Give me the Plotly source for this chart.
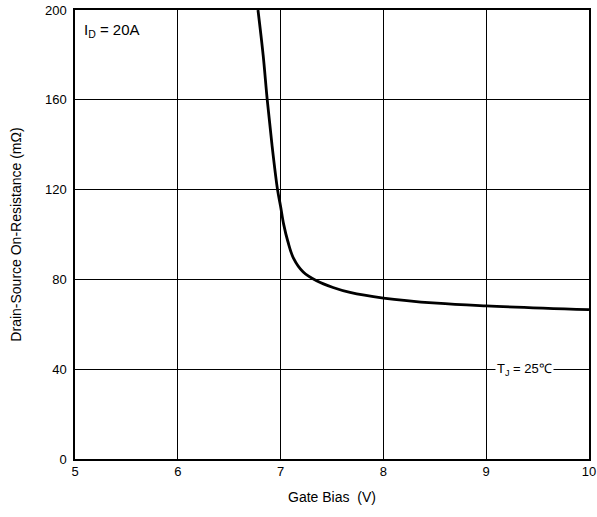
import plotly.graph_objects as go

gate_bias = [6.78, 6.83, 6.87, 6.916, 6.97, 7.0, 7.03, 7.07, 7.125, 7.22, 7.35, 7.51, 7.675, 8.0, 8.52, 9.0, 10.0]
resistance = [200, 180, 160, 140, 120, 112.5, 104.5, 97, 89.5, 83.3, 79.4, 76.4, 74.2, 71.7, 69.4, 68.2, 66.5]
x_ticks = [5, 6, 7, 8, 9, 10]
y_ticks = [0, 40, 80, 120, 160, 200]

FONT = "Liberation Sans, Arial"

fig = go.Figure()
fig.add_trace(go.Scatter(x=gate_bias, y=resistance, mode="lines",
                         line=dict(color="black", width=2.8, shape="spline", smoothing=1.0),
                         showlegend=False, hoverinfo="skip"))

axis_common = dict(showgrid=True, gridcolor="black", gridwidth=1.2, showline=True,
                   linecolor="black", linewidth=1.5, mirror=True, zeroline=False,
                   automargin=False,
                   ticks="", tickfont=dict(family=FONT, size=13, color="black"))

fig.update_xaxes(range=[5, 10], tickvals=x_ticks, ticktext=[str(v) for v in x_ticks],
                 title=dict(text="Gate Bias  (V)", font=dict(family=FONT, size=14, color="black"), standoff=14),
                 **axis_common)
fig.update_yaxes(range=[0, 200], tickvals=y_ticks, ticktext=[str(v) for v in y_ticks],
                 ticklabelstandoff=4,
                 title=dict(text="Drain-Source On-Resistance (mΩ)", font=dict(family=FONT, size=14, color="black"), standoff=20),
                 **axis_common)

fig.add_annotation(x=5.07, y=196, xref="x", yref="y", xanchor="left", yanchor="top",
                   text="I<sub>D</sub> = 20A", showarrow=False,
                   font=dict(family=FONT, size=15, color="black"))
fig.add_annotation(x=9.37, y=40, xref="x", yref="y", xanchor="center", yanchor="middle",
                   text="T<sub>J</sub> = 25℃", showarrow=False, bgcolor="white",
                   font=dict(family=FONT, size=13, color="black"))

fig.update_layout(width=597, height=517, margin=dict(l=75, r=8, t=10, b=58),
                  paper_bgcolor="white", plot_bgcolor="white")

fig.write_html("out.html", config={"displayModeBar": False},
               post_script="document.body.style.margin='0px';")
